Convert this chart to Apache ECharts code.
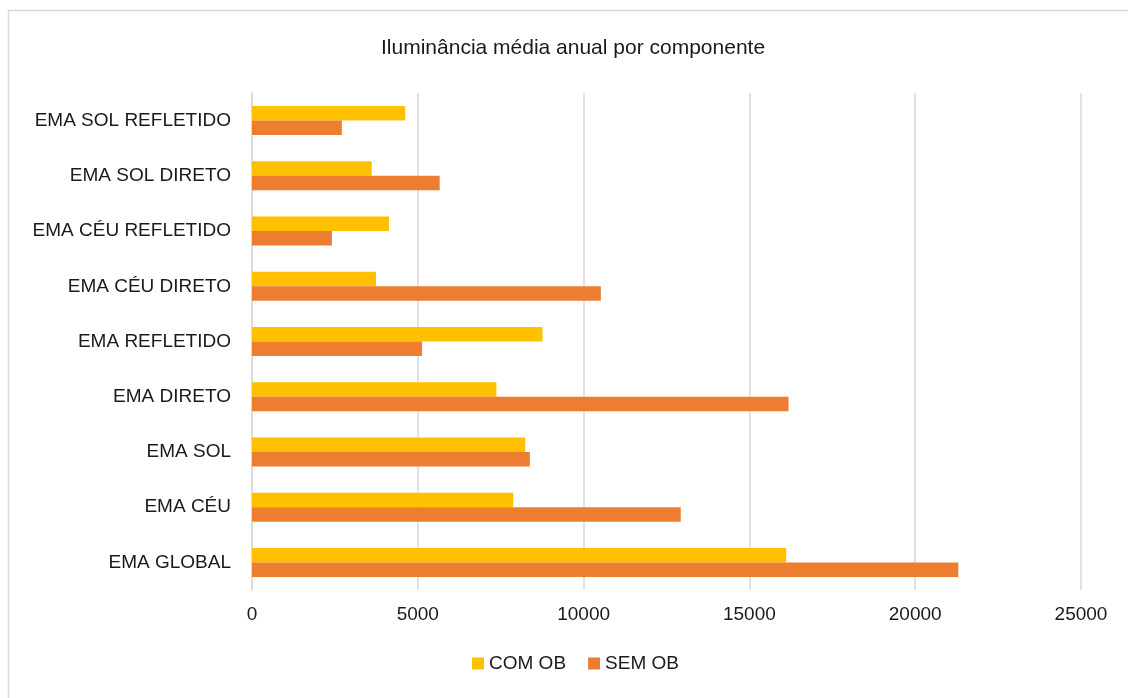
<!DOCTYPE html>
<html>
<head>
<meta charset="utf-8">
<title>Iluminância média anual por componente</title>
<script src="https://cdn.jsdelivr.net/npm/echarts@6/dist/echarts.min.js"></script>
<style>
  html, body { margin: 0; padding: 0; background: #ffffff; }
  #chart { width: 1128px; height: 698px; }
</style>
</head>
<body>
<div id="chart"></div>
<script>
// Categories, bottom to top on the vertical axis
const categories = [
  'EMA GLOBAL', 'EMA CÉU', 'EMA SOL', 'EMA DIRETO', 'EMA REFLETIDO',
  'EMA CÉU DIRETO', 'EMA CÉU REFLETIDO', 'EMA SOL DIRETO', 'EMA SOL REFLETIDO'
];
// Annual mean illuminance with obstruction
const comOB = [16110, 7880, 8240, 7370, 8760, 3740, 4130, 3610, 4620];
// Annual mean illuminance without obstruction
const semOB = [21300, 12930, 8380, 16180, 5130, 10520, 2410, 5660, 2710];
const xTicks = [0, 5000, 10000, 15000, 20000, 25000];

const FONT = '"Liberation Sans Narrow", "Arial Narrow", "Liberation Sans", Arial, sans-serif';
const TEXT = '#1a1a1a';
const chart = echarts.init(document.getElementById('chart'), null, { renderer: 'canvas' });

chart.setOption({
  backgroundColor: '#ffffff',
  animation: false,
  title: {
    text: 'Iluminância média anual por componente',
    left: 381,
    top: 38,
    padding: 0,
    textStyle: { fontFamily: FONT, fontSize: 21, fontWeight: 'normal', color: TEXT }
  },
  graphic: [{
    type: 'rect',
    shape: { x: 8.5, y: 10.5, width: 1130, height: 700 },
    style: { fill: 'none', stroke: '#d9d9d9', lineWidth: 1.5 },
    silent: true
  }],
  legend: {
    bottom: 20,
    left: 467,
    itemWidth: 12,
    itemHeight: 12,
    itemGap: 22,
    icon: 'rect',
    data: ['COM OB', 'SEM OB'],
    textStyle: { fontFamily: FONT, fontSize: 19, color: TEXT }
  },
  grid: { left: 252, right: 47, top: 93, bottom: 108, containLabel: false },
  xAxis: {
    type: 'value',
    min: xTicks[0],
    max: xTicks[xTicks.length - 1],
    interval: xTicks[1] - xTicks[0],
    axisLine: { show: false },
    axisTick: { show: false },
    splitLine: { show: true, lineStyle: { color: '#d9d9d9', width: 1.5 } },
    axisLabel: {
      fontFamily: FONT, fontSize: 19, color: TEXT, margin: 15,
      formatter: (v) => String(v)
    }
  },
  yAxis: {
    type: 'category',
    data: categories,
    axisLine: { show: true, lineStyle: { color: '#d9d9d9', width: 1.5 } },
    axisTick: { show: false },
    axisLabel: { fontFamily: FONT, fontSize: 19, color: TEXT, margin: 21 }
  },
  series: [
    {
      name: 'COM OB',
      type: 'bar',
      data: comOB,
      barWidth: 14.5,
      barGap: '0%',
      itemStyle: { color: '#FFC000' }
    },
    {
      name: 'SEM OB',
      type: 'bar',
      data: semOB,
      barWidth: 14.5,
      barGap: '0%',
      itemStyle: { color: '#ED7D31' }
    }
  ]
});
</script>
</body>
</html>
